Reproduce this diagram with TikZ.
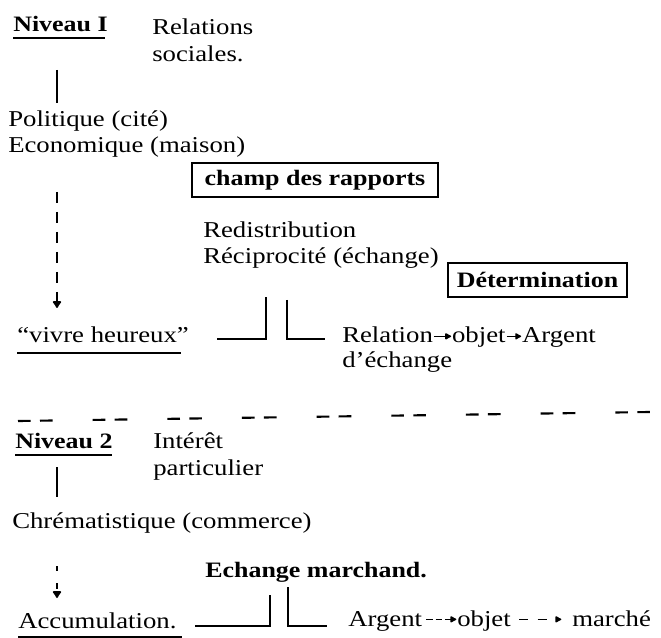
\documentclass[tikz,border=0pt]{standalone}
\usepackage{fontspec}
\setmainfont[FakeStretch=1.18]{Liberation Serif}
\usetikzlibrary{arrows.meta}
\begin{document}
\begin{tikzpicture}[x=0.75pt,y=-0.75pt,
  txt/.style={anchor=base west,inner sep=0pt,font=\fontsize{17}{20}\selectfont},
  btxt/.style={txt,font=\fontsize{16.5}{20}\selectfont\bfseries},
  link/.style={line width=1.4pt},
  ul/.style={line width=1.4pt},
  dlink/.style={line width=1.4pt,dash pattern=on 8pt off 7pt},
  tipd/.style={-{Latex[length=6pt,width=8pt,round]}},
  tipt/.style={line width=1.1pt,-{Latex[length=5.5pt,width=6pt,round]}},
  bx/.style={draw,line width=1.5pt,inner sep=0pt,minimum height=25.5pt,font=\fontsize{16.5}{20}\selectfont\bfseries}
]
\useasboundingbox (0,0) rectangle (661,638);

% ---------- Niveau 1 ----------
\node[btxt] (n1) at (13,32) {Niveau I};
\draw[ul] (n1.base west) ++(0,6) coordinate (u1a) -- ++(92,0) coordinate (u1b);
\node[txt] (rs1) at (152,35) {Relations};
\node[txt] (rs2) at (152,62) {sociales.};

\coordinate (v1a) at (57,70);
\coordinate (v1b) at (57,103);
\draw[link] (v1a) -- (v1b);

\node[txt] (pol) at (8,127) {Politique (cité)};
\node[txt] (eco) at (8,153) {Economique (maison)};

\node[bx,minimum width=184.5pt] (champ) at (315,180) {champ des rapports\hspace{10pt}};

\coordinate (d1a) at (57,192);
\coordinate (d1b) at (57,308);
\draw[dlink,tipd] (d1a) -- (d1b);

\node[txt] (red) at (203,238) {Redistribution};
\node[txt] (rec) at (203,263) {Réciprocité (échange)};

\node[bx,minimum width=134pt] (det) at (537.5,280) {Détermination};

\node[txt] (vh) at (17,342) {“vivre heureux”};
\draw[ul] (17,353) -- (181,353);

\coordinate (b1a) at (217,339);
\coordinate (b1b) at (266,297);
\coordinate (b1c) at (287,300);
\coordinate (b1d) at (325,339);
\draw[link] (b1a) -| (b1b);
\draw[link] (b1c) |- (b1d);

\node[txt] (rel) at (342,343) {Relation};
\node[txt] (ob1) at ([xshift=14pt]rel.base east) {objet};
\node[txt] (ar1) at ([xshift=12pt]ob1.base east) {Argent};
\draw[tipt] ([xshift=0.5pt,yshift=5pt]rel.base east) -- ([xshift=-0.5pt,yshift=5pt]ob1.base west);
\draw[tipt] ([xshift=0.5pt,yshift=5pt]ob1.base east) -- ([xshift=-0.5pt,yshift=5pt]ar1.base west);
\node[txt] (dech) at (342,367) {d'échange};

% ---------- separator ----------
\coordinate (sepa) at (18,421);
\coordinate (sepb) at (650,412);
\draw[line width=1.6pt,dash pattern=on 9.5pt off 7pt on 9.5pt off 30pt] (sepa) -- (sepb);

% ---------- Niveau 2 ----------
\node[btxt] (n2) at (15,448) {Niveau 2};
\draw[ul] (15,455) -- (112,455);
\node[txt] (int1) at (153,448) {Intérêt};
\node[txt] (int2) at (153,475) {particulier};

\coordinate (v2a) at (57,467);
\coordinate (v2b) at (57,497);
\draw[link] (v2a) -- (v2b);

\node[txt] (chr) at (12,528) {Chrématistique (commerce)};

\coordinate (d2a) at (57,566);
\coordinate (d2b) at (57,598);
\draw[line width=1.4pt,dash pattern=on 4pt off 9pt,tipd] (d2a) -- (d2b);

\node[btxt] (ech) at (205,577) {Echange marchand.};

\node[txt] (acc) at (18,628) {Accumulation.};
\draw[ul] (18,637) -- (182,637);

\coordinate (b2a) at (195,626);
\coordinate (b2b) at (270,595);
\coordinate (b2c) at (288,587);
\coordinate (b2d) at (327,626);
\draw[link] (b2a) -| (b2b);
\draw[link] (b2c) |- (b2d);

\node[txt] (ar2) at (348,626) {Argent};
\node[txt] (ob2) at (457,626) {objet};
\node[txt] (mar) at (572,626) {marché};
\draw[tipt,dash pattern=on 5pt off 2pt] ([xshift=3pt,yshift=5pt]ar2.base east) -- ([xshift=-0.5pt,yshift=5pt]ob2.base west);
\draw[tipt,dash pattern=on 7pt off 7pt] ([xshift=6pt,yshift=5pt]ob2.base east) -- ([xshift=-8pt,yshift=5pt]mar.base west);
\end{tikzpicture}
\end{document}
